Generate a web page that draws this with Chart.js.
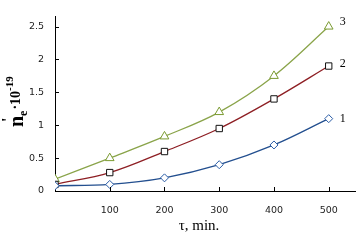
<!DOCTYPE html>
<html lang="en">
<head>
  <meta charset="UTF-8">
  <title>n'e vs time</title>
  <script src="https://cdn.jsdelivr.net/npm/chart.js"></script>
  <style>
    html, body { margin: 0; padding: 0; background: #fff; }
    #wrap { width: 363px; height: 241px; }
  </style>
</head>
<body>
  <div id="wrap"><canvas id="c"></canvas></div>
  <script>
    const times = [0, 100, 200, 300, 400, 500];
    const curve1 = [0.08, 0.1, 0.2, 0.4, 0.7, 1.1];
    const curve2 = [0.1, 0.28, 0.6, 0.95, 1.4, 1.9];
    const curve3 = [0.18, 0.5, 0.83, 1.2, 1.75, 2.5];
    const curveNames = ["1", "2", "3"];

    const pts = arr => arr.map((v, i) => ({ x: times[i], y: v }));

    // inward tick marks, curve numbers, axis titles
    const extras = {
      id: "extras",
      afterDraw(chart) {
        const ctx = chart.ctx;
        const xs = chart.scales.x, ys = chart.scales.y;
        const a = chart.chartArea;
        ctx.save();
        ctx.strokeStyle = "#000";
        ctx.lineWidth = 1;
        ctx.beginPath();
        [100, 200, 300, 400, 500].forEach(v => {
          const px = Math.round(xs.getPixelForValue(v)) + 0.5;
          ctx.moveTo(px, a.bottom); ctx.lineTo(px, a.bottom - 4);
        });
        [0.5, 1, 1.5, 2, 2.5].forEach(v => {
          const py = Math.round(ys.getPixelForValue(v)) + 0.5;
          ctx.moveTo(a.left, py); ctx.lineTo(a.left + 4, py);
        });
        ctx.stroke();

        ctx.fillStyle = "#000";
        ctx.font = "12px 'Liberation Serif'";
        ctx.textBaseline = "middle";
        chart.data.datasets.forEach((ds, i) => {
          const meta = chart.getDatasetMeta(i);
          const p = meta.data[meta.data.length - 1];
          ctx.fillText(curveNames[i], p.x + 11, p.y - (i === 2 ? 5 : (i === 1 ? 2 : 0)));
        });

        // x title
        ctx.textAlign = "center";
        ctx.font = "15px 'Liberation Serif'";
        ctx.fillText("τ, min.", 199, 226);
        ctx.textAlign = "left";

        // y title: n'e · 10^-19
        ctx.translate(23, 127);
        ctx.rotate(-Math.PI / 2);
        ctx.textBaseline = "alphabetic";
        let x = 0;
        ctx.font = "bold 20px 'Liberation Serif'";
        ctx.fillText("n", x, 0);
        const nw = ctx.measureText("n").width;
        ctx.font = "bold 16px 'Liberation Serif'";
        ctx.fillText("'", x + 5, -10);
        ctx.font = "bold 12px 'Liberation Serif'";
        ctx.fillText("e", x + nw, 4);
        x += nw + ctx.measureText("e").width + 1;
        ctx.font = "bold 14px 'Liberation Serif'";
        ctx.fillText("·10", x, -3);
        x += ctx.measureText("·10").width;
        ctx.font = "bold 11px 'Liberation Serif'";
        ctx.fillText("-19", x, -10);
        ctx.restore();
      }
    };

    new Chart(document.getElementById("c"), {
      type: "line",
      data: {
        datasets: [
          { data: pts(curve1), borderColor: "#234f8f", borderWidth: 1.3,
            pointStyle: "rectRot", pointRadius: 4, pointBorderColor: "#2a5ca6",
            pointBackgroundColor: "#fff", pointBorderWidth: 1, tension: 0.35 },
          { data: pts(curve2), borderColor: "#8e1f24", borderWidth: 1.3,
            pointStyle: "rect", pointRadius: 4.5, pointBorderColor: "#111",
            pointBackgroundColor: "#fff", pointBorderWidth: 1, tension: 0.35 },
          { data: pts(curve3), borderColor: "#8aa44a", borderWidth: 1.3,
            pointStyle: "triangle", pointRadius: 5, pointBorderColor: "#7a9a30",
            pointBackgroundColor: "#fff", pointBorderWidth: 1, tension: 0.35 }
        ]
      },
      options: {
        responsive: true,
        maintainAspectRatio: false,
        animation: false,
        layout: { padding: { left: 0, right: 8, top: 14, bottom: 0 } },
        plugins: { legend: { display: false }, tooltip: { enabled: false } },
        scales: {
          x: {
            type: "linear", min: 0, max: 548,
            grid: { display: false, drawTicks: false },
            border: { color: "#000", width: 1 },
            ticks: {
              stepSize: 100, includeBounds: false, padding: 14,
              color: "#222", font: { family: "'DejaVu Sans'", size: 9.5 },
              callback: v => (v > 0 && v % 100 === 0) ? v : ""
            },
            afterFit: s => { s.height = 50; }
          },
          y: {
            min: 0, max: 2.65,
            grid: { display: false, drawTicks: false },
            border: { color: "#000", width: 1 },
            ticks: {
              stepSize: 0.5, includeBounds: false, padding: 11,
              color: "#222", font: { family: "'DejaVu Sans'", size: 9.5 },
              callback: v => (Math.abs(v * 2 - Math.round(v * 2)) < 1e-9) ? String(v) : ""
            },
            afterFit: s => { s.width = 55; }
          }
        }
      },
      plugins: [extras]
    });
  </script>
</body>
</html>
